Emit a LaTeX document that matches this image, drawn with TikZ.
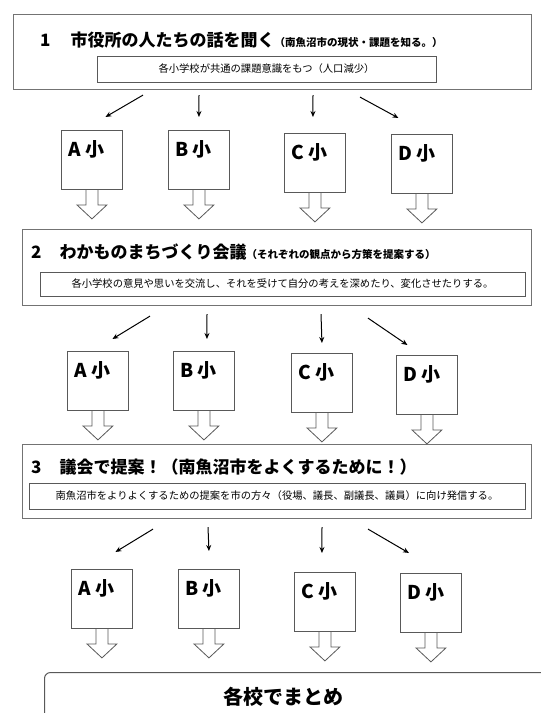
\documentclass[tikz,border=0pt]{standalone}
\usepackage{fontspec}
\setmainfont{Noto Sans CJK JP}
\usetikzlibrary{positioning,arrows.meta}

\begin{document}
\begin{tikzpicture}[
    x=1pt, y=-1pt,
    stagebox/.style={rectangle, draw=black!55, line width=1.1pt, anchor=north west, inner sep=0pt},
    notebox/.style={rectangle, draw=black!65, line width=1pt, inner sep=0pt, font=\fontsize{10.3}{12}\selectfont},
    titletext/.style={anchor=west, inner sep=0pt, font=\bfseries\fontsize{17}{20}\selectfont},
    schoolbox/.style={rectangle, draw=black!65, line width=0.9pt, minimum width=61pt, minimum height=59pt, anchor=north west, inner sep=0pt},
    schoolname/.style={anchor=west, inner sep=0pt, font=\bfseries\fontsize{19}{22}\selectfont},
    link/.style={-{Stealth[length=6pt,width=5pt]}, line width=1pt},
    downarrow/.pic={\draw[black!65, line width=0.8pt] (-6,0) -- (-6,15) -- (-15,15) -- (0,29) -- (15,15) -- (6,15) -- (6,0);}
    ]
    \useasboundingbox (0,0) rectangle (541,713);
    \clip (0,0) rectangle (541,713);

    %Stage 1
    \node[stagebox, minimum width=518pt, minimum height=75pt] (stage1) at (13,14) {};
    \node[titletext] (title1) at (40,40) {1\hspace{20pt}市役所の人たちの話を聞く{\fontsize{10.5}{12}\selectfont （南魚沼市の現状・課題を知る。）}};
    \node[notebox, minimum width=339pt, minimum height=26pt] (note1) at (266.5,69) {各小学校が共通の課題意識をもつ（人口減少）};

    \node[schoolbox] (A1) at (61,130) {};
    \node[schoolbox] (B1) at (168,130) {};
    \node[schoolbox] (C1) at (284,133) {};
    \node[schoolbox] (D1) at (391,134) {};
    \node[schoolname] (nameA1) at ([shift={(7,19)}]A1.north west) {A 小};
    \node[schoolname] (nameB1) at ([shift={(7,19)}]B1.north west) {B 小};
    \node[schoolname] (nameC1) at ([shift={(7,19)}]C1.north west) {C 小};
    \node[schoolname] (nameD1) at ([shift={(7,19)}]D1.north west) {D 小};

    %Stage 2
    \node[stagebox, minimum width=509pt, minimum height=76pt] (stage2) at (22,229) {};
    \node[titletext] (title2) at (31,252) {2\hspace{18pt}わかものまちづくり会議{\fontsize{10.5}{12}\selectfont （それぞれの観点から方策を提案する）}};
    \node[notebox, minimum width=485pt, minimum height=24pt] (note2) at (282.5,284) {各小学校の意見や思いを交流し、それを受けて自分の考えを深めたり、変化させたりする。};

    \node[schoolbox] (A2) at (67,351) {};
    \node[schoolbox] (B2) at (173,351) {};
    \node[schoolbox] (C2) at (291,353) {};
    \node[schoolbox] (D2) at (396,355) {};
    \node[schoolname] (nameA2) at ([shift={(7,19)}]A2.north west) {A 小};
    \node[schoolname] (nameB2) at ([shift={(7,19)}]B2.north west) {B 小};
    \node[schoolname] (nameC2) at ([shift={(7,19)}]C2.north west) {C 小};
    \node[schoolname] (nameD2) at ([shift={(7,19)}]D2.north west) {D 小};

    %Stage 3
    \node[stagebox, minimum width=509pt, minimum height=74pt] (stage3) at (22,444) {};
    \node[titletext] (title3) at (31,467) {3\hspace{18pt}議会で提案！（南魚沼市をよくするために！）};
    \node[notebox, minimum width=496pt, minimum height=26pt] (note3) at (277,496) {南魚沼市をよりよくするための提案を市の方々（役場、議長、副議長、議員）に向け発信する。};

    \node[schoolbox] (A3) at (71,569) {};
    \node[schoolbox] (B3) at (178,569) {};
    \node[schoolbox] (C3) at (294,572) {};
    \node[schoolbox] (D3) at (400,573) {};
    \node[schoolname] (nameA3) at ([shift={(7,19)}]A3.north west) {A 小};
    \node[schoolname] (nameB3) at ([shift={(7,19)}]B3.north west) {B 小};
    \node[schoolname] (nameC3) at ([shift={(7,19)}]C3.north west) {C 小};
    \node[schoolname] (nameD3) at ([shift={(7,19)}]D3.north west) {D 小};

    %Summary
    \node[draw=black!65, line width=1pt, rounded corners=6pt, minimum width=520pt, minimum height=70pt, anchor=north west] (summary) at (44,672) {};
    \node[font=\bfseries\fontsize{20}{24}\selectfont] (summarytext) at (283,697) {各校でまとめ};

    %Lines
    \draw[link] ([shift={(130,5)}]stage1.south west) -- ([shift={(13.5,-13)}]A1.north);
    \draw[link] ([shift={(186,5)}]stage1.south west) -- ([shift={(0,-13)}]B1.north);
    \draw[link] ([shift={(300,5)}]stage1.south west) -- ([shift={(-2,-16)}]C1.north);
    \draw[link] ([shift={(347,7)}]stage1.south west) -- ([shift={(-23.5,-16)}]D1.north);

    \draw[link] ([shift={(128,10)}]stage2.south west) -- ([shift={(14.5,-12)}]A2.north);
    \draw[link] ([shift={(185,8)}]stage2.south west) -- ([shift={(3,-12)}]B2.north);
    \draw[link] ([shift={(299,8)}]stage2.south west) -- ([shift={(0,-10)}]C2.north);
    \draw[link] ([shift={(346,12)}]stage2.south west) -- ([shift={(-19.5,-10)}]D2.north);

    \draw[link] ([shift={(131,10)}]stage3.south west) -- ([shift={(13.5,-17)}]A3.north);
    \draw[link] ([shift={(186,8)}]stage3.south west) -- ([shift={(0,-18)}]B3.north);
    \draw[link] ([shift={(300,8)}]stage3.south west) -- ([shift={(-3,-19)}]C3.north);
    \draw[link] ([shift={(346,10)}]stage3.south west) -- ([shift={(-22,-20)}]D3.north);

    %Block arrows
    \pic at (A1.south) {downarrow};
    \pic at (B1.south) {downarrow};
    \pic at (C1.south) {downarrow};
    \pic at (D1.south) {downarrow};
    \pic at (A2.south) {downarrow};
    \pic at (B2.south) {downarrow};
    \pic at (C2.south) {downarrow};
    \pic at (D2.south) {downarrow};
    \pic at (A3.south) {downarrow};
    \pic at (B3.south) {downarrow};
    \pic at (C3.south) {downarrow};
    \pic at (D3.south) {downarrow};

\end{tikzpicture}
\end{document}
